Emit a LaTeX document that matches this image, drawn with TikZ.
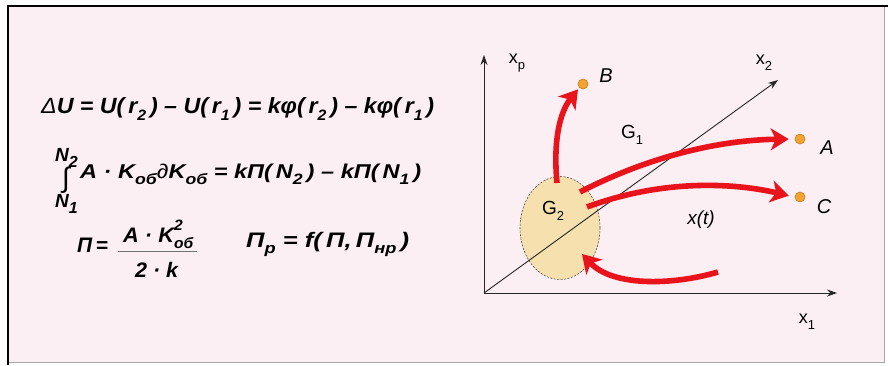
\documentclass[tikz,border=0pt]{standalone}
\usepackage{graphicx}
\usepackage{fontspec}
\setmainfont{Liberation Sans}
\usetikzlibrary{arrows.meta,shapes.geometric}
\definecolor{bgpink}{HTML}{FBEFF3}
\definecolor{redarr}{HTML}{E8131B}
\definecolor{tan}{HTML}{F6E1AE}
\definecolor{dotor}{HTML}{F2A331}
\definecolor{dotedge}{HTML}{C87A1A}
\newcommand\fs[1]{\fontsize{#1}{#1}\selectfont}
\newcommand\lowsub[2]{\raisebox{-0.32em}{\fs{#1}#2}}
\newcommand\wfit[2]{\resizebox{#1}{\height}{#2}}
\tikzset{
  eq/.style={anchor=base west, inner sep=0pt, font=\bfseries\itshape},
  lbl/.style={inner sep=0pt, font=\fs{18}},
  axis/.style={draw=black!85, line width=0.9pt, -{Stealth[length=10pt,width=7pt]}},
  flow/.style={draw=redarr, line width=5.6pt, -{Stealth[length=18pt,width=22pt,inset=5pt]}},
  pt/.style={circle, fill=dotor, draw=dotedge, line width=0.6pt, minimum size=10pt, inner sep=0pt}
}
\begin{document}
\begin{tikzpicture}[x=1pt,y=-1pt]
\useasboundingbox (0,0) rectangle (888,365);
\fill[white] (0,0) rectangle (888,365);
\fill[bgpink] (8,6) rectangle (884,362);
\draw[gray!70, line width=1pt] (884,6) -- (884,362) -- (8,362);
\draw[black, line width=2.4pt] (8,365) -- (8,6) -- (888,6);

% equations
\node[eq, font=\bfseries\itshape\fs{22}] (eq1) at (41,113)
  {\wfit{393pt}{{\mdseries Δ}U = U(\,r\lowsub{15}{2}\,) – U(\,r\lowsub{15}{1}\,) = kφ(\,r\lowsub{15}{2}\,) – kφ(\,r\lowsub{15}{1}\,)}};
\node[eq, font=\bfseries\itshape\fs{19}] (n2) at (55,161) {N\lowsub{16}{2}};
\node[eq, font=\mdseries\fs{28}] (int) at (62,187) {∫};
\node[eq, font=\bfseries\itshape\fs{19}] (n1) at (55,207) {N\lowsub{16}{1}};
\node[eq, font=\bfseries\itshape\fs{20}] (eq2) at (80,178)
  {\wfit{341pt}{A · K\lowsub{15}{об}{\mdseries\upshape ∂}K\lowsub{15}{об} = kП(\,N\lowsub{15}{2}\,) – kП(\,N\lowsub{15}{1}\,)}};
\node[eq, font=\bfseries\itshape\fs{21}] (pi) at (77,252) {П};
\node[eq, font=\bfseries\fs{21}] (pieq) at (96,252) {=};
\node[eq, font=\bfseries\itshape\fs{21}] (num) at (123,242)
  {\wfit{70pt}{A · K\rlap{\raisebox{0.55em}{\fs{15}2}}\lowsub{15}{об}}};
\draw[black!55, line width=0.8pt] (118,251) -- (197,251);
\node[eq, font=\bfseries\itshape\fs{21}] (den) at (135,277) {\wfit{43pt}{2 · k}};
\node[eq, font=\bfseries\itshape\fs{21}] (eq3) at (246,247)
  {\wfit{163pt}{П\lowsub{15}{p} = f(\,П,\,П\lowsub{15}{нр}\,)}};

% diagram
\coordinate (O) at (484,293);
\coordinate (Y) at (484,55);
\coordinate (X1) at (837,293);
\coordinate (X2) at (778,80);
\node[ellipse, draw=black!70, dashed, dash pattern=on 2pt off 1.5pt, line width=0.6pt, fill=tan,
      minimum width=80pt, minimum height=103pt, inner sep=0pt] (G2) at (560,228) {};
\draw[axis] (O) -- (Y);
\draw[axis] (O) -- (X1);
\draw[axis] (O) -- (X2);

\node[lbl] (xp) at (517,63) {x\lowsub{13}{p}};
\node[lbl] (x2) at (764,63) {x\lowsub{13}{2}};
\node[lbl] (x1) at (807,322) {x\lowsub{13}{1}};
\node[lbl, font=\fs{19}] (g1) at (632,135) {G\lowsub{13}{1}};
\node[lbl, font=\fs{19}] (g2) at (553,211) {G\lowsub{13}{2}};
\node[lbl, font=\itshape\fs{19}] (xt) at (701,220) {x(t)};

\node[pt] (B) at (583,84) {};
\node[pt] (A) at (800,139) {};
\node[pt] (C) at (800,197) {};
\node[lbl, font=\itshape\fs{20}] (lB) at (606,76) {B};
\node[lbl, font=\itshape\fs{20}] (lA) at (827,148) {A};
\node[lbl, font=\itshape\fs{20}] (lC) at (824,207) {C};

\coordinate (sB) at (557,183);
\coordinate (sA) at (580,192);
\coordinate (sC) at (587,207);
\coordinate (sD) at (718,272);
\coordinate (eD) at (582,254);

\draw[flow, shorten >=2pt] (sB) .. controls (553,140) and (560,112) .. (B.south west);
\draw[flow, shorten >=6pt] (sA) .. controls (650,156) and (720,140) .. (A.west);
\draw[flow, shorten >=6pt] (sC) .. controls (660,180) and (730,182) .. (C.west);
\draw[flow] (sD) .. controls (670,286) and (612,286) .. (eD);
\end{tikzpicture}
\end{document}
